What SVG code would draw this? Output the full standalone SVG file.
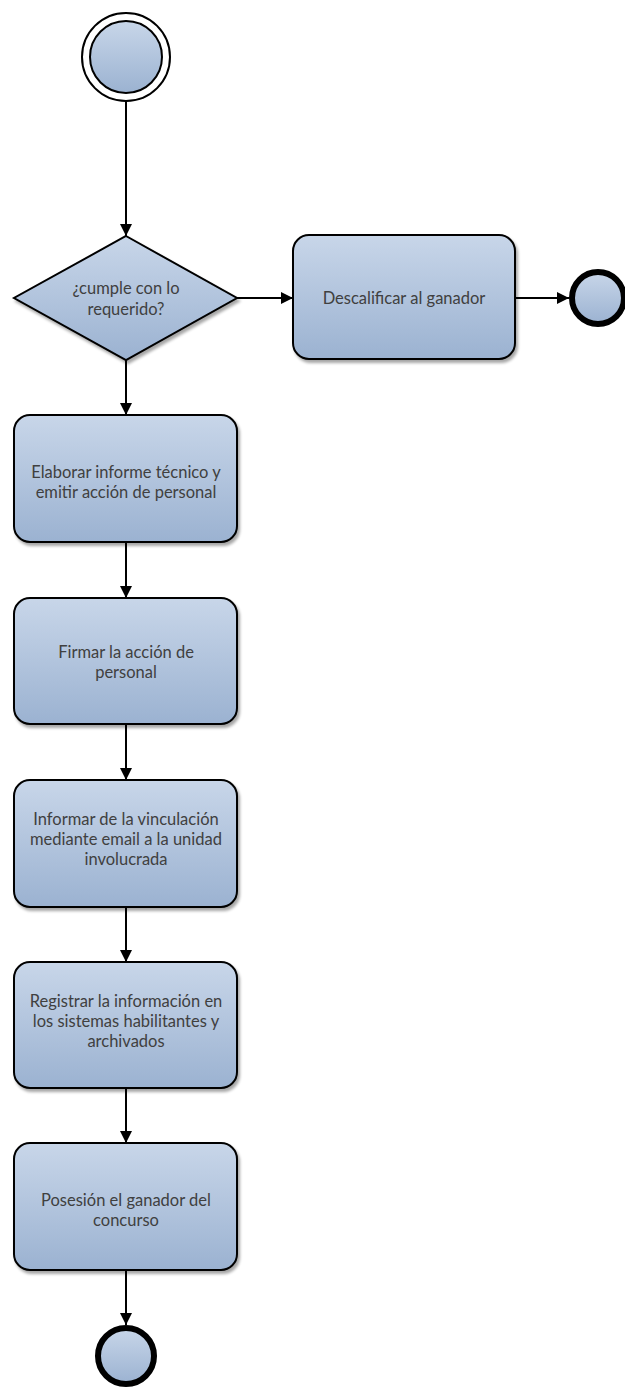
<svg xmlns="http://www.w3.org/2000/svg" width="625" height="1387" viewBox="0 0 625 1387">
  <defs>
    <linearGradient id="fillGrad" x1="0" y1="0" x2="0" y2="1">
      <stop offset="0" stop-color="#c8d6e9"/>
      <stop offset="1" stop-color="#9bb2d1"/>
    </linearGradient>
    <filter id="shadow" x="-10%" y="-10%" width="130%" height="130%">
      <feGaussianBlur in="SourceAlpha" stdDeviation="1.5"/>
      <feOffset dx="2" dy="3" result="b"/>
      <feComponentTransfer><feFuncA type="linear" slope="0.35"/></feComponentTransfer>
      <feMerge><feMergeNode/><feMergeNode in="SourceGraphic"/></feMerge>
    </filter>
    <marker id="arrow" viewBox="0 0 12 12" refX="12" refY="6" markerWidth="12" markerHeight="12" markerUnits="userSpaceOnUse" orient="auto">
      <path d="M0,0 L12,6 L0,12 Z" fill="#000"/>
    </marker>
  </defs>
  <style>
    .task { fill: url(#fillGrad); stroke: #000; stroke-width: 2; filter: url(#shadow); }
    .label { font-family: Lato, "Open Sans", "Liberation Sans", sans-serif; font-size: 16.5px; fill: #404040; text-anchor: middle; }
    .flow { stroke: #000; stroke-width: 2; fill: none; marker-end: url(#arrow); }
  </style>

  <g id="connectors">
    <line class="flow" x1="126" y1="102" x2="126" y2="236"/>
    <line class="flow" x1="237" y1="298" x2="293" y2="298"/>
    <line class="flow" x1="515" y1="298" x2="569" y2="298"/>
    <line class="flow" x1="126" y1="360" x2="126" y2="415"/>
    <line class="flow" x1="126" y1="542" x2="126" y2="598"/>
    <line class="flow" x1="126" y1="724" x2="126" y2="780"/>
    <line class="flow" x1="126" y1="907" x2="126" y2="962"/>
    <line class="flow" x1="126" y1="1088" x2="126" y2="1143"/>
    <line class="flow" x1="126" y1="1270" x2="126" y2="1325"/>
  </g>

  <g id="start">
    <circle cx="126" cy="57" r="44" fill="#fff" stroke="#000" stroke-width="2"/>
    <circle cx="126" cy="57" r="36" fill="url(#fillGrad)" stroke="#000" stroke-width="2"/>
  </g>

  <g id="decision">
    <polygon class="task" points="126,236 237,298 126,360 14,298"/>
    <text class="label" x="126" y="294">¿cumple con lo</text>
    <text class="label" x="126" y="315">requerido?</text>
  </g>

  <g id="disqualify">
    <rect class="task" x="293" y="235" width="222" height="124" rx="16"/>
    <text class="label" x="404" y="304">Descalificar al ganador</text>
  </g>

  <g id="end-disqualified">
    <circle cx="598" cy="298" r="26" fill="url(#fillGrad)" stroke="#000" stroke-width="6"/>
  </g>

  <g id="report">
    <rect class="task" x="14" y="415" width="223" height="127" rx="16"/>
    <text class="label" x="126" y="478">Elaborar informe técnico y</text>
    <text class="label" x="126" y="498">emitir acción de personal</text>
  </g>

  <g id="sign">
    <rect class="task" x="14" y="598" width="223" height="126" rx="16"/>
    <text class="label" x="126" y="658">Firmar la acción de</text>
    <text class="label" x="126" y="678">personal</text>
  </g>

  <g id="inform">
    <rect class="task" x="14" y="780" width="223" height="127" rx="16"/>
    <text class="label" x="126" y="825">Informar de la vinculación</text>
    <text class="label" x="126" y="845">mediante email a la unidad</text>
    <text class="label" x="126" y="865">involucrada</text>
  </g>

  <g id="register">
    <rect class="task" x="14" y="962" width="223" height="126" rx="16"/>
    <text class="label" x="126" y="1007">Registrar la información en</text>
    <text class="label" x="126" y="1027">los sistemas habilitantes y</text>
    <text class="label" x="126" y="1047">archivados</text>
  </g>

  <g id="possession">
    <rect class="task" x="14" y="1143" width="223" height="127" rx="16"/>
    <text class="label" x="126" y="1206">Posesión el ganador del</text>
    <text class="label" x="126" y="1226">concurso</text>
  </g>

  <g id="end">
    <circle cx="126" cy="1356" r="28" fill="url(#fillGrad)" stroke="#000" stroke-width="6"/>
  </g>
</svg>
